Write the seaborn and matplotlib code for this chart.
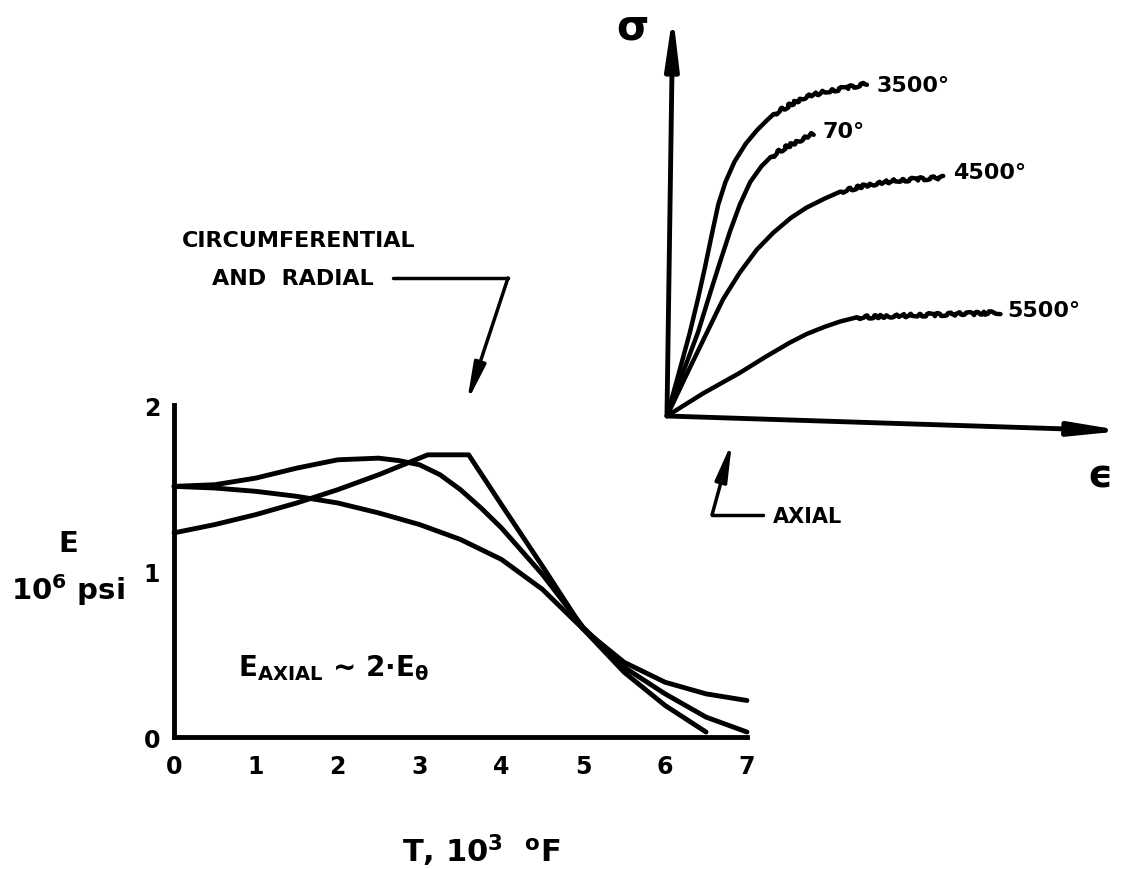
import matplotlib
matplotlib.use("Agg")
import matplotlib.pyplot as plt
import seaborn as sns
import pandas as pd

# lower chart: E (10^6 psi) against T (10^3 F)
temp_hump = [0, 0.5, 1.0, 1.5, 2.0, 2.5, 2.75, 3.0, 3.25, 3.5, 3.75, 4.0, 4.5, 5.0, 5.5, 6.0, 6.5, 7.0]
mod_hump = [1.51, 1.52, 1.56, 1.62, 1.67, 1.68, 1.665, 1.64, 1.58, 1.49, 1.38, 1.26, 0.98, 0.66, 0.42, 0.26, 0.12, 0.03]
temp_fall = [0, 0.5, 1.0, 1.5, 2.0, 2.5, 3.0, 3.5, 4.0, 4.5, 5.0, 5.5, 6.0, 6.5, 7.0]
mod_fall = [1.51, 1.50, 1.48, 1.45, 1.41, 1.35, 1.28, 1.19, 1.07, 0.89, 0.65, 0.45, 0.33, 0.26, 0.22]
temp_peak = [0, 0.5, 1.0, 1.5, 2.0, 2.5, 3.0, 3.1, 3.6, 4.0, 4.5, 5.0, 5.5, 6.0, 6.5]
mod_peak = [1.23, 1.28, 1.34, 1.41, 1.49, 1.58, 1.68, 1.70, 1.70, 1.40, 1.03, 0.65, 0.39, 0.19, 0.03]
x_ticks = [0, 1, 2, 3, 4, 5, 6, 7]
y_ticks = [0, 1, 2]

# upper sketch: stress-strain, (rising part, wavy flow part)
curves = {
    "3500°": ([0, 0.25, 0.51, 0.70, 0.85, 1.0, 1.14, 1.3, 1.5, 1.75, 2.0, 2.2, 2.36],
              [0, 0.9, 1.86, 2.65, 3.33, 4.05, 4.7, 5.2, 5.65, 6.05, 6.35, 6.55, 6.7],
              [2.36, 2.8, 3.1, 3.5, 4.0, 4.44], [6.7, 6.95, 7.1, 7.2, 7.3, 7.38]),
    "70°": ([0, 0.35, 0.69, 0.95, 1.15, 1.4, 1.62, 1.85, 2.1, 2.3],
            [0, 0.95, 1.86, 2.7, 3.33, 4.1, 4.7, 5.2, 5.55, 5.75],
            [2.3, 2.6, 2.9, 3.25], [5.75, 5.95, 6.1, 6.27]),
    "4500°": ([0, 0.45, 0.89, 1.25, 1.62, 2.0, 2.36, 2.75, 3.1, 3.5, 3.84],
              [0, 0.95, 1.86, 2.6, 3.19, 3.7, 4.07, 4.4, 4.63, 4.83, 4.98],
              [3.84, 4.4, 5.0, 5.6, 6.14], [4.98, 5.12, 5.22, 5.27, 5.30]),
    "5500°": ([0, 0.8, 1.62, 2.2, 2.73, 3.1, 3.5, 3.85, 4.21],
              [0, 0.5, 0.96, 1.32, 1.63, 1.82, 1.98, 2.1, 2.19],
              [4.21, 5.0, 5.8, 6.6, 7.41], [2.19, 2.22, 2.25, 2.27, 2.30]),
}
label_offsets = {"3500°": (7, -1), "70°": (7, 2), "4500°": (7, 4), "5500°": (5, 2)}

H = 870


def px(x, y):
    # image pixel (from top) -> figure pixels
    return (x, H - y)


def main():
    sns.set_theme(style="white")
    plt.rcParams["font.family"] = ["DejaVu Sans"]
    plt.rcParams["font.weight"] = "bold"
    plt.rcParams["mathtext.fontset"] = "dejavusans"
    plt.rcParams["mathtext.default"] = "bf"

    fig = plt.figure(figsize=(11.27, 8.70), dpi=100)
    fig.patch.set_facecolor("white")
    lw = 3.5

    # ---- lower chart
    ax = fig.add_axes([0.1544, 0.1517, 0.5084, 0.3816])
    for t, e in [(temp_hump, mod_hump), (temp_fall, mod_fall), (temp_peak, mod_peak)]:
        df = pd.DataFrame({"T": t, "E": e})
        sns.lineplot(data=df, x="T", y="E", ax=ax, color="black", linewidth=lw,
                     estimator=None, sort=False, clip_on=False)
    ax.set_xlim(0, 7)
    ax.set_ylim(0, 2)
    ax.set_xticks(x_ticks)
    ax.set_yticks(y_ticks)
    sns.despine(ax=ax)
    for s in ["left", "bottom"]:
        ax.spines[s].set_linewidth(lw)
        ax.spines[s].set_color("black")
        ax.spines[s].set_capstyle("projecting")
    ax.tick_params(direction="in", length=9, width=lw, color="black",
                   labelsize=17, labelcolor="black")
    ax.tick_params(axis="x", pad=12)
    ax.tick_params(axis="y", pad=10)
    for lab in ax.get_xticklabels() + ax.get_yticklabels():
        lab.set_fontweight("bold")
    ax.set_xlabel("T, 10$^3$  $^o$F", fontsize=22, fontweight="bold", color="black")
    ax.xaxis.set_label_coords(0.536, -0.285)
    ax.set_ylabel("E\n10$^6$ psi", fontsize=21, fontweight="bold", rotation=0,
                  ha="center", va="center", linespacing=1.5, color="black")
    ax.yaxis.set_label_coords(-0.185, 0.51)
    ax.text(0.78, 0.42, r"E$_{AXIAL}$ ~ 2·E$_θ$", fontsize=20, fontweight="bold",
            va="center", ha="left", color="black")
    ax.set_facecolor("white")

    # ---- upper sketch
    ax2 = fig.add_axes([0.5918, 0.5207, 0.3993, 0.4655])
    ax2.set_xlim(0, 10)
    ax2.set_ylim(0, 9)
    ax2.axis("off")
    for name, (x1, y1, x2, y2) in curves.items():
        sns.lineplot(x=x1, y=y1, ax=ax2, color="black", linewidth=3.2,
                     estimator=None, sort=False, clip_on=False)
        ax2.lines[-1].set_solid_joinstyle("round")
        sns.lineplot(x=x2, y=y2, ax=ax2, color="black", linewidth=3.2,
                     estimator=None, sort=False, clip_on=False)
        ax2.lines[-1].set_sketch_params(1.6, 14, 6)
        ax2.annotate(name, xy=(x2[-1], y2[-1]), xytext=label_offsets[name],
                     textcoords="offset points", fontsize=16, fontweight="bold",
                     ha="left", va="center", color="black")
    arrow = dict(arrowstyle="-|>,head_length=1.5,head_width=0.2", lw=3.5,
                 color="black", mutation_scale=20, shrinkA=0, shrinkB=0)
    ax2.annotate("", xy=(0.13, 8.93), xytext=(0, 0), arrowprops=arrow, annotation_clip=False)
    ax2.annotate("", xy=(10.15, -0.33), xytext=(0, 0), arrowprops=arrow, annotation_clip=False)

    fig.text(632 / 1127, 1 - 28 / H, "σ", fontsize=30, fontweight="bold",
             ha="center", va="center", color="black")
    fig.text(1100 / 1127, 1 - 477 / H, "ϵ", fontsize=28, fontweight="bold",
             ha="center", va="center", color="black")

    # ---- callouts
    fig.text(182 / 1127, 1 - 241 / H, "CIRCUMFERENTIAL", fontsize=16, fontweight="bold",
             ha="left", va="center", color="black")
    fig.text(212 / 1127, 1 - 279 / H, "AND  RADIAL", fontsize=16, fontweight="bold",
             ha="left", va="center", color="black")
    fig.add_artist(matplotlib.lines.Line2D([393 / 1127, 508 / 1127], [1 - 279 / H, 1 - 279 / H],
                                           color="black", lw=2.5))
    head = dict(arrowstyle="-|>,head_length=1.4,head_width=0.22", lw=2.5,
                color="black", mutation_scale=16, shrinkA=0, shrinkB=0)
    fig.add_artist(matplotlib.patches.FancyArrowPatch(px(508, 279), px(467, 403),
                   transform=None, **head))

    fig.add_artist(matplotlib.lines.Line2D([763 / 1127, 712 / 1127], [1 - 516 / H, 1 - 516 / H],
                                           color="black", lw=2.5))
    fig.add_artist(matplotlib.patches.FancyArrowPatch(px(712, 516), px(732, 443),
                   transform=None, **head))
    fig.text(773 / 1127, 1 - 517 / H, "AXIAL", fontsize=15, fontweight="bold",
             ha="left", va="center", color="black")

    fig.savefig("out.png", dpi=100, facecolor="white")
    plt.close(fig)


if __name__ == "__main__":
    main()
